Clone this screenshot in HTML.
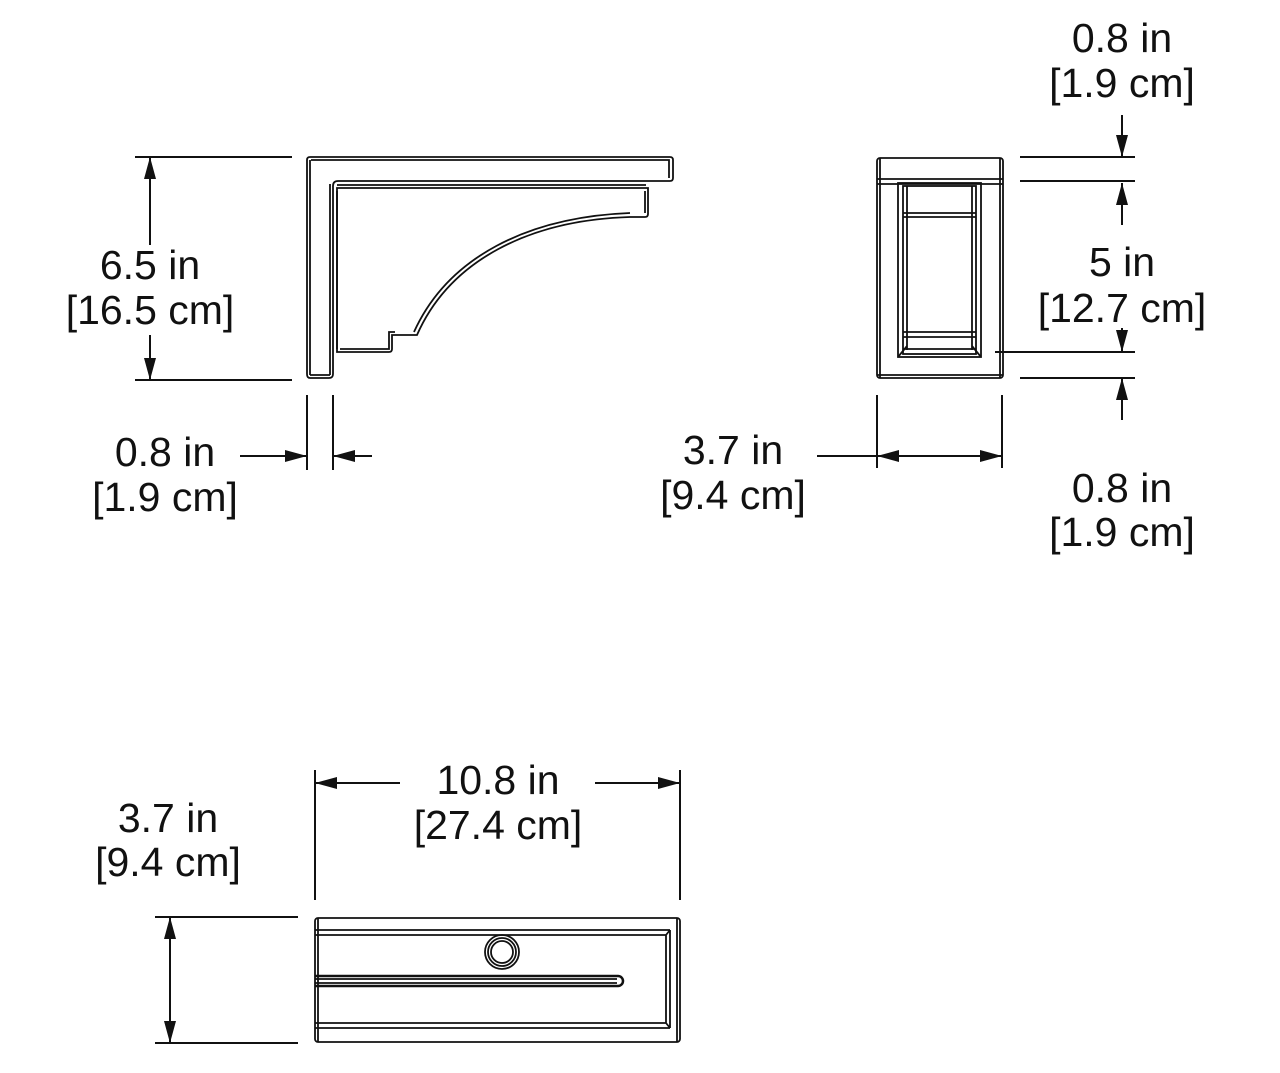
<!DOCTYPE html>
<html><head><meta charset="utf-8"><style>
html,body{margin:0;padding:0;background:#fff;}
svg{display:block;}
text{font-family:"Liberation Sans",sans-serif;font-size:41px;fill:#111;text-anchor:middle;}
</style></head><body>
<svg width="1280" height="1073" viewBox="0 0 1280 1073" xmlns="http://www.w3.org/2000/svg">
<defs>
<marker id="b" viewBox="0 0 22 12" refX="22" refY="6" markerWidth="22" markerHeight="12" markerUnits="userSpaceOnUse" orient="auto-start-reverse"><path d="M0,0 L22,6 L0,12 z" fill="#111"/></marker>
</defs>
<g fill="none" stroke="#111" stroke-width="1.8">
<!-- side view -->
<path d="M310,157 H670 Q673,157 673,160 V178 Q673,181 670,181 H338 Q333,181 333,186 V374 Q333,378 329,378 H310 Q307,378 307,374 V160 Q307,157 310,157 z"/>
<path d="M311,160 H669 V178"/>
<path d="M310,160 V375 M330,184 V375 M310,375 H330"/>
<path d="M337,188 H648 V214 Q648,217 645,217 H630 C530,220 450,260 417,335 H392 V349 Q392,352 389,352 H337 z"/>
<path d="M337,185 H646 M337,191 V349 M630,213 C528,217 448,257 414,332 M645,191 V213"/>
<path d="M340,349 H389 V332 H395"/>
<!-- front view -->
<rect x="877" y="158" width="126" height="220" rx="3"/>
<path d="M880,158 V378 M1000,158 V378 M877,179 H1003 M877,184 H1003 M877,375 H1003"/>
<rect x="898" y="183" width="83" height="174"/>
<rect x="903" y="186" width="73" height="168"/>
<path d="M907,186 V350 M972,186 V350 M903,213 H976 M903,217 H976 M903,332 H976 M903,337 H976 M903,349 H976 M898,357 L907,346 M981,357 L972,346"/>
<!-- top view -->
<rect x="315" y="918" width="365" height="124" rx="3"/>
<path d="M318,918 V1042 M677,918 V1042 M315,930 H670 M315,935 H666 M315,1023 H666 M315,1028 H670 M670,930 V1028 M666,935 V1023 M670,930 L666,935 M670,1028 L666,1023"/>
<circle cx="502" cy="952" r="17"/>
<circle cx="502" cy="952" r="14"/>
<circle cx="502" cy="952" r="11"/>
<path d="M315,976 H618 A5,5 0 0 1 618,986 H315" stroke-width="2.5"/>
<path d="M315,979 H617 M315,983 H617"/>
</g>
<!-- dimension lines -->
<g stroke="#111" stroke-width="2" fill="none">
<path d="M135,157 H292 M135,380 H292"/>
<path d="M150,245 V157" marker-end="url(#b)"/>
<path d="M150,335 V380" marker-end="url(#b)"/>
<path d="M307,395 V470 M333,395 V470"/>
<path d="M240,456 H307" marker-end="url(#b)"/>
<path d="M372,456 H333" marker-end="url(#b)"/>
<path d="M1020,157 H1135 M1020,181 H1135 M995,352 H1135 M1020,378 H1135"/>
<path d="M1122,115 V157" marker-end="url(#b)"/>
<path d="M1122,225 V183" marker-end="url(#b)"/>
<path d="M1122,328 V352" marker-end="url(#b)"/>
<path d="M1122,420 V378" marker-end="url(#b)"/>
<path d="M877,395 V468 M1002,395 V468"/>
<path d="M817,456 H877"/>
<path d="M877,456 H1002" marker-start="url(#b)" marker-end="url(#b)"/>
<path d="M315,770 V900 M680,770 V900"/>
<path d="M400,783 H315" marker-end="url(#b)"/>
<path d="M595,783 H680" marker-end="url(#b)"/>
<path d="M155,917 H298 M155,1043 H298"/>
<path d="M170,917 V1043" marker-start="url(#b)" marker-end="url(#b)"/>
</g>
<text x="150" y="279">6.5 in</text>
<text x="150" y="324">[16.5 cm]</text>
<text x="165" y="466">0.8 in</text>
<text x="165" y="511">[1.9 cm]</text>
<text x="1122" y="52">0.8 in</text>
<text x="1122" y="97">[1.9 cm]</text>
<text x="1122" y="276">5 in</text>
<text x="1122" y="322">[12.7 cm]</text>
<text x="1122" y="502">0.8 in</text>
<text x="1122" y="546">[1.9 cm]</text>
<text x="733" y="464">3.7 in</text>
<text x="733" y="509">[9.4 cm]</text>
<text x="498" y="794">10.8 in</text>
<text x="498" y="839">[27.4 cm]</text>
<text x="168" y="832">3.7 in</text>
<text x="168" y="876">[9.4 cm]</text>
</svg>
</body></html>
